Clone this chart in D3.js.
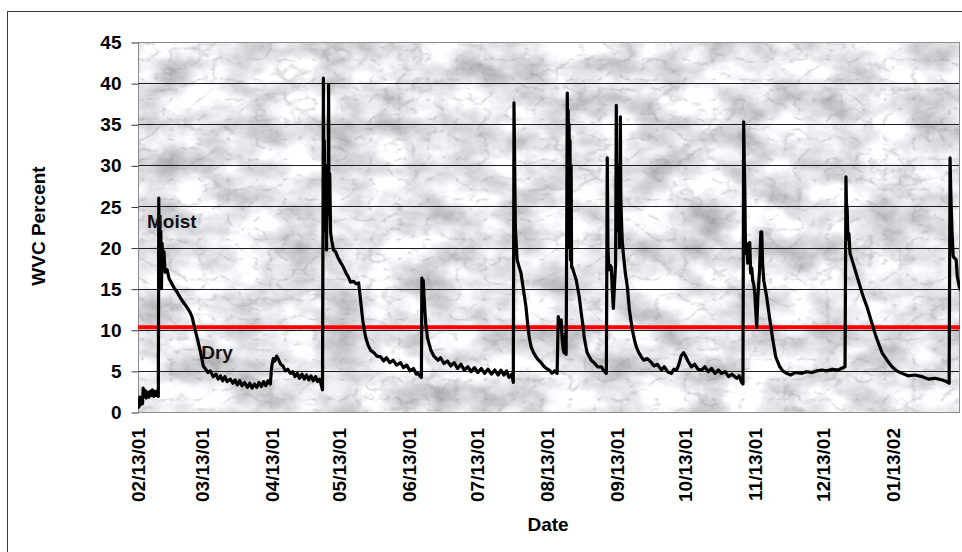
<!DOCTYPE html>
<html>
<head>
<meta charset="utf-8">
<script src="https://cdn.jsdelivr.net/npm/d3@7"></script>
<style>
    body { margin: 0; background: #fff; }
    svg { display: block; font-family: "Liberation Sans", Arial, sans-serif; }
</style>
</head>
<body>
<svg id="chart" width="962" height="552"></svg>
<script>

// days since 02/13/01
var dayOffset = [
    0, 0.4, 0.8, 1.2, 1.6, 2.0, 2.3, 2.7, 3.2, 3.7, 4.2, 4.8, 5.3, 5.9, 6.4, 7.0, 7.5, 8.1, 8.6, 9.0,
    9.2, 9.4, 9.6, 9.8, 10.1, 10.4, 10.7, 11.0, 11.5, 12.0, 12.9, 13.8, 15, 16.2, 17.3, 18.5, 19.7, 21, 22, 23.1,
    24, 25.3, 26.4, 27.5, 28.2, 28.9, 30, 31, 32, 33.3, 34.5, 35.5, 36.5, 37.5, 38.5, 39.5, 40.9, 42, 43, 44,
    45, 46, 47.2, 48.4, 49.5, 50.5, 51.6, 52.6, 53.6, 54.6, 55.6, 56.6, 57.6, 58.6, 59.2, 59.9, 60.6, 61.4, 62.2, 63.2,
    64.2, 65.2, 66.3, 67.5, 68.5, 69.5, 70.5, 71.5, 72.6, 73.6, 74.6, 75.6, 76.6, 77.6, 78.6, 79.5, 80.5, 81.2, 81.7,
    82.1, 82.3, 82.5, 82.8, 83.1, 83.5, 83.8, 84.2, 84.4, 84.6, 84.9, 85.3, 85.8, 86.6, 87.5, 88.5, 89.7, 91, 92.3,
    93.2, 94.1, 95.5, 96.5, 97.7, 98.6, 99.5, 100.2, 100.8, 101.8, 103, 104.5, 105.8, 107.5, 108.8, 110, 111.5, 113,
    114.5, 116.3, 117.5, 119, 120.5, 122, 123.2, 123.9, 124.8, 125.5,
    125.7, 126.0, 126.3, 126.6, 127.0, 127.4, 128.2, 129.7, 131, 132.8, 134, 135.5, 137, 138.5, 140, 141.5, 143,
    144.5, 146.1, 147.5, 149, 150.5, 152, 153.5, 155, 156.5, 158, 159.5, 160.7, 162, 163.2, 164.3, 165.5, 166.2,
    166.5, 166.8, 167.1, 167.4, 167.9, 168.6, 169.6, 170.5, 171.8, 172.7, 173.3, 174.1, 175.2, 176.3, 177.4, 178.5,
    179.6, 180.8, 182.1, 183.3, 184.5, 185.6,
    186.1, 186.5, 187.0, 187.4, 187.8, 188.3, 188.7, 189.2, 189.6,
    190.1, 190.3, 190.5, 190.7, 190.9, 191.1, 191.3, 191.5, 191.8, 192.0, 192.3, 193.2, 194.1, 195.4, 196.3, 197.0,
    197.6, 198.3, 198.9, 200.7, 202, 203.5, 205.2, 206.3, 207.4,
    207.8, 208.1, 208.4, 208.7, 209.2, 209.6, 210.0, 210.5, 211.0, 211.5, 211.8, 212.0, 212.3, 212.5, 212.7, 213.0,
    213.2, 213.6, 213.8, 214.0, 214.4, 214.9, 215.8, 216.7, 217.6, 218.9, 219.8, 220.7, 221.8, 222.9, 224, 225.5,
    227.4, 228.5, 230, 231.8, 233, 234.5, 236.2, 237.3, 238.5, 239.5, 240.5, 241.6, 242.5, 243.5, 245.1, 246.5,
    248, 249.6, 251, 252.5, 254, 255.5, 257, 258.4, 260, 261.5, 263, 265.1, 266.2, 267.3, 267.9,
    268.2, 268.5, 268.7, 268.9, 269.1, 269.5, 270.0, 270.4, 270.9, 271.3, 271.8, 272.2, 272.7, 273.1, 273.5, 274.0,
    274.5, 275.2, 275.8, 276.2, 276.6, 277.1, 278.4, 279.8, 281.1, 282.4, 284.2, 285.5, 287.3, 289, 291, 294, 296,
    298.5, 300.5, 302.8, 305, 307.5, 310, 313.1,
    313.5, 313.8, 314.0, 314.4, 314.8, 315.3, 316.2, 317.3, 318.4, 319.5, 320.6, 321.7, 322.8, 323.9, 325.0, 326.1,
    327.3, 328.4, 329.5, 331.7, 333.9, 336, 338.4, 341, 344, 347.3, 350, 353, 356.1, 358, 359.2,
    359.6, 359.9, 360.1, 360.5, 361.0, 362.3, 362.8, 363.7, 365
];

var wvc = [
    1.2, 0.6, 1.8, 0.9, 1.6, 1.0, 2.9, 1.9, 2.6, 1.7, 2.4, 1.8, 2.5, 2.0, 2.7, 1.9, 2.5, 2.0, 2.6, 1.9,
    26.0, 19.5, 23.0, 20.0, 22.0, 15.0, 20.5, 17.5, 19.5, 17.0, 17.3, 16.2, 15.6, 15.0, 14.6, 14.0, 13.5, 13.0, 12.6, 12.1,
    11.5, 10.0, 8.8, 7.5, 6.6, 5.6, 5.2, 4.8, 5.0, 4.3, 4.6, 4.0, 4.4, 3.8, 4.3, 3.7, 4.0, 3.5, 3.9, 3.3,
    3.8, 3.2, 3.6, 3.0, 3.5, 2.9, 3.4, 3.0, 3.6, 3.1, 3.7, 3.2, 3.8, 3.4, 5.5, 6.5, 6.2, 6.8, 6.4, 5.8,
    5.6, 5.0, 5.2, 4.7, 4.9, 4.3, 4.7, 4.1, 4.6, 4.0, 4.5, 3.9, 4.4, 3.8, 4.3, 3.7, 4.0, 3.2, 2.7,
    40.6, 24, 33, 22, 30, 19.7, 27, 26, 39.8, 24, 29, 21.8, 20.8, 19.7, 19.5, 18.8, 18.2, 17.6, 16.8,
    16.4, 15.8, 15.9, 15.6, 15.7, 13.5, 11.2, 10.0, 9.1, 8.2, 7.5, 7.2, 6.8, 6.7, 6.2, 6.6, 6.0, 6.3,
    5.7, 6.0, 5.4, 5.7, 5.0, 5.3, 4.6, 4.7, 4.4, 4.2,
    16.3, 15.5, 16.0, 14.5, 12.5, 10.8, 9.0, 7.5, 6.8, 6.3, 6.6, 5.9, 6.2, 5.6, 6.0, 5.3, 5.8,
    5.1, 5.5, 4.9, 5.4, 4.8, 5.3, 4.7, 5.2, 4.6, 5.1, 4.5, 5.1, 4.5, 5.0, 4.2, 4.6, 3.6,
    37.6, 30, 22.5, 21, 18.5, 17.8, 16.9, 15.2, 12.8, 10.3, 9.0, 7.9, 7.2, 6.7, 6.3, 6.0,
    5.6, 5.3, 5.1, 4.7, 5.0, 4.7,
    11.6, 10.8, 10.3, 11.2, 8.8, 7.6, 7.2, 9.5, 7.0,
    38.8, 30, 36.7, 25, 35, 20, 33, 18.5, 30, 17.6, 17.6, 16.8, 16.0, 14.0, 12.0, 10.6,
    9.1, 8.0, 7.2, 6.3, 6.0, 5.5, 5.5, 5.0, 4.7,
    30.9, 20, 18.0, 17.3, 17.8, 17.6, 15.0, 12.6, 15.5, 18, 37.3, 26, 28.2, 22, 22.1, 30,
    20, 35.9, 26, 24.2, 21, 19.3, 16.9, 15.2, 12.4, 10.0, 8.8, 7.9, 7.2, 6.7, 6.3, 6.5,
    6.0, 5.6, 5.8, 5.1, 5.5, 4.9, 4.7, 5.2, 5.1, 5.8, 6.8, 7.2, 6.8, 6.2, 5.5, 5.8,
    5.2, 5.1, 5.5, 4.9, 5.3, 4.7, 5.1, 4.7, 4.9, 4.3, 4.6, 4.1, 4.4, 3.6, 3.4,
    35.3, 30, 27.4, 22, 19.3, 20.5, 18.1, 19, 20.6, 16.9, 17.5, 16.0, 15.5, 14.5, 12.5, 10.3,
    14, 17, 21.9, 21.9, 18, 16.0, 14.0, 11.2, 8.8, 6.7, 5.5, 5.0, 4.7, 4.5, 4.8, 4.7, 4.9,
    4.8, 5.0, 5.1, 5.0, 5.2, 5.1, 5.5,
    28.6, 24, 25, 21, 21.7, 19.3, 18.5, 17.5, 16.5, 15.5, 14.5, 13.6, 12.8, 11.8, 10.8, 9.8,
    8.8, 8.0, 7.2, 6.3, 5.5, 5.0, 4.7, 4.4, 4.5, 4.3, 4.0, 4.1, 3.9, 3.7, 3.5,
    30.9, 27, 25, 21.7, 18.9, 18.5, 16.5, 15.2, 14.5
];

var yTicks = [0, 5, 10, 15, 20, 25, 30, 35, 40, 45];
var gridValues = [5, 10, 15, 20, 25, 30, 35, 40];
var moistureLimit = 10.3;
var startDate = new Date(2001, 1, 13);
var endDate = new Date(2002, 1, 12);
var tickDates = d3.timeMonth.range(new Date(2001, 1, 1), new Date(2002, 1, 1)).map(function (d) {
    return new Date(d.getFullYear(), d.getMonth(), 13);
});
var notes = [
    {text: 'Moist', day: 4, value: 22.4},
    {text: 'Dry', day: 28, value: 6.5}
];

var plotLeft = 138, plotTop = 42, plotRight = 960, plotBottom = 412;

var svg = d3.select('#chart');

var x = d3.scaleTime().domain([startDate, endDate]).range([plotLeft, plotRight]);
var y = d3.scaleLinear().domain([0, 45]).range([plotBottom, plotTop]);

function toDate(day) {
    return new Date(startDate.getTime() + day * 864e5);
}

var points = dayOffset.map(function (d, i) {
    return {date: toDate(d), value: wvc[i]};
});

// outer chart border
svg.append('rect')
    .attr('x', 7.5).attr('y', 11.5)
    .attr('width', 1000).attr('height', 600)
    .attr('fill', '#fff')
    .attr('stroke', '#3a3a3a');

var defs = svg.append('defs');

// marble-ish plot background: soft cloudy base plus thin grey veins
function noiseFilter(id, type, freq, octaves, seed, matrix) {
    var f = defs.append('filter')
        .attr('id', id)
        .attr('x', 0).attr('y', 0).attr('width', 1).attr('height', 1)
        .attr('color-interpolation-filters', 'sRGB');
    f.append('feTurbulence')
        .attr('type', type)
        .attr('baseFrequency', freq)
        .attr('numOctaves', octaves)
        .attr('seed', seed);
    f.append('feColorMatrix')
        .attr('type', 'matrix')
        .attr('values', matrix);
}
noiseFilter('marbleBase', 'fractalNoise', '0.022 0.034', 5, 3,
    '0.55 0 0 0 0.63  0.55 0 0 0 0.63  0.55 0 0 0 0.645  0 0 0 0 1');
noiseFilter('marbleVein', 'turbulence', '0.035 0.05', 4, 11,
    '0 0 0 0 0.55  0 0 0 0 0.55  0 0 0 0 0.56  -4 0 0 0 0.85');

defs.append('clipPath').attr('id', 'plotClip')
    .append('rect')
    .attr('x', plotLeft).attr('y', plotTop)
    .attr('width', plotRight - plotLeft).attr('height', plotBottom - plotTop);

svg.append('rect')
    .attr('x', plotLeft).attr('y', plotTop)
    .attr('width', plotRight - plotLeft).attr('height', plotBottom - plotTop)
    .attr('fill', '#ddd')
    .attr('filter', 'url(#marbleBase)');

svg.append('rect')
    .attr('x', plotLeft).attr('y', plotTop)
    .attr('width', plotRight - plotLeft).attr('height', plotBottom - plotTop)
    .attr('fill', '#ddd')
    .attr('opacity', 0.45)
    .attr('filter', 'url(#marbleVein)');

// gridlines
svg.append('g').selectAll('line')
    .data(gridValues)
    .join('line')
    .attr('x1', plotLeft).attr('x2', plotRight)
    .attr('y1', function (d) { return Math.round(y(d)) + 0.5; })
    .attr('y2', function (d) { return Math.round(y(d)) + 0.5; })
    .attr('stroke', '#1e1e1e');

// plot frame
svg.append('rect')
    .attr('x', plotLeft + 0.5).attr('y', plotTop + 0.5)
    .attr('width', plotRight - plotLeft - 1).attr('height', plotBottom - plotTop)
    .attr('fill', 'none')
    .attr('stroke', '#8c8c8c');

// y axis
var yAxis = svg.append('g')
    .attr('transform', 'translate(' + (plotLeft + 0.5) + ',0.5)')
    .call(d3.axisLeft(y).tickValues(yTicks).tickSize(7).tickPadding(10));
yAxis.select('.domain').remove();
yAxis.selectAll('line').attr('stroke', '#333');
yAxis.selectAll('text')
    .attr('font-size', 19)
    .attr('font-weight', 'bold')
    .attr('fill', '#000')
    .attr('font-family', '"Liberation Sans", Arial, sans-serif');

// x axis, vertical date labels
var xAxis = svg.append('g')
    .attr('transform', 'translate(0,' + plotBottom + ')')
    .call(d3.axisBottom(x).tickValues(tickDates).tickSize(0).tickFormat(d3.timeFormat('%m/%d/%y')));
xAxis.select('.domain').remove();
xAxis.selectAll('text')
    .attr('transform', 'rotate(-90)')
    .attr('x', -16)
    .attr('y', 0)
    .attr('dy', '0.36em')
    .attr('text-anchor', 'end')
    .attr('font-size', 19)
    .attr('font-weight', 'bold')
    .attr('fill', '#000')
    .attr('font-family', '"Liberation Sans", Arial, sans-serif');

var plot = svg.append('g').attr('clip-path', 'url(#plotClip)');

// 10% line
plot.append('line')
    .attr('x1', plotLeft).attr('x2', plotRight)
    .attr('y1', y(moistureLimit)).attr('y2', y(moistureLimit))
    .attr('stroke', '#ff0000')
    .attr('stroke-width', 4);

var line = d3.line()
    .x(function (d) { return x(d.date); })
    .y(function (d) { return y(d.value); });

plot.append('path')
    .datum(points)
    .attr('d', line)
    .attr('fill', 'none')
    .attr('stroke', '#000')
    .attr('stroke-width', 3.2)
    .attr('stroke-linejoin', 'round');

// annotations
svg.append('g').selectAll('text')
    .data(notes)
    .join('text')
    .attr('x', function (d) { return x(toDate(d.day)); })
    .attr('y', function (d) { return y(d.value); })
    .attr('font-size', 19)
    .attr('font-weight', 'bold')
    .attr('fill', '#111')
    .text(function (d) { return d.text; });

// axis titles
svg.append('text')
    .attr('x', 548).attr('y', 531)
    .attr('text-anchor', 'middle')
    .attr('font-size', 19)
    .attr('font-weight', 'bold')
    .text('Date');

svg.append('text')
    .attr('transform', 'translate(45,226) rotate(-90)')
    .attr('text-anchor', 'middle')
    .attr('font-size', 19)
    .attr('font-weight', 'bold')
    .text('WVC Percent');

</script>
</body>
</html>
